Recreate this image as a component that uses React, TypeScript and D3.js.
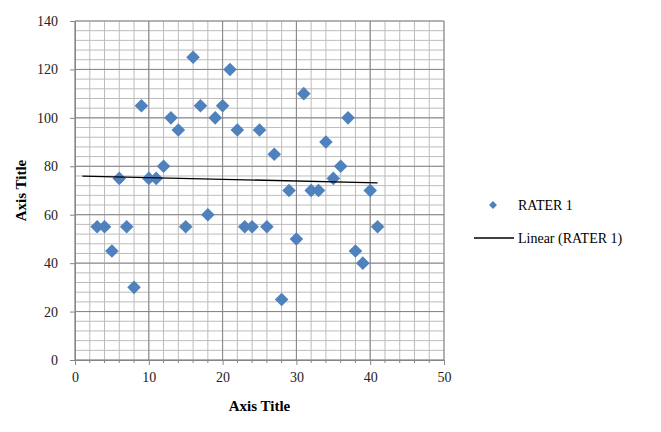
import React, { useEffect, useRef } from 'react';
import * as d3 from 'd3';

const xValues = [3, 4, 5, 6, 7, 8, 9, 10, 11, 12, 13, 14, 15, 16, 17, 18, 19, 20, 21, 22, 23, 24, 25, 26, 27, 28, 29, 30, 31, 32, 33, 34, 35, 36, 37, 38, 39, 40, 41];
const rater1 = [55, 55, 45, 75, 55, 30, 105, 75, 75, 80, 100, 95, 55, 125, 105, 60, 100, 105, 120, 95, 55, 55, 95, 55, 85, 25, 70, 50, 110, 70, 70, 90, 75, 80, 100, 45, 40, 70, 55];
const xTicks = [0, 10, 20, 30, 40, 50];
const yTicks = [0, 20, 40, 60, 80, 100, 120, 140];
const trendRange = [1, 41];
const seriesName = 'RATER 1';

function App() {
  const ref = useRef<SVGSVGElement | null>(null);

  useEffect(() => {
    if (!ref.current) return;
    const width = 661;
    const height = 432;
    const margin = { top: 21, right: 217, bottom: 72, left: 75 };
    const font = '"Liberation Serif", "Times New Roman", serif';
    const blue = '#4f81bd';

    const svg = d3.select(ref.current)
      .attr('width', width)
      .attr('height', height);
    svg.selectAll('*').remove();

    const x = d3.scaleLinear().domain([0, 50]).range([margin.left, width - margin.right]);
    const y = d3.scaleLinear().domain([0, 140]).range([height - margin.bottom, margin.top]);

    const grid = svg.append('g');
    // minor grid
    grid.selectAll('line.mx')
      .data(d3.range(0, 51, 2))
      .join('line')
      .attr('x1', d => x(d)).attr('x2', d => x(d))
      .attr('y1', y(0)).attr('y2', y(140))
      .attr('stroke', '#bcbcbc').attr('stroke-width', 1);
    grid.selectAll('line.my')
      .data(d3.range(0, 141, 4))
      .join('line')
      .attr('x1', x(0)).attr('x2', x(50))
      .attr('y1', d => y(d)).attr('y2', d => y(d))
      .attr('stroke', '#bcbcbc').attr('stroke-width', 1);
    // major grid
    grid.selectAll('line.Mx')
      .data(xTicks)
      .join('line')
      .attr('x1', d => x(d)).attr('x2', d => x(d))
      .attr('y1', y(0)).attr('y2', y(140))
      .attr('stroke', '#868686').attr('stroke-width', 1);
    grid.selectAll('line.My')
      .data(yTicks)
      .join('line')
      .attr('x1', x(0)).attr('x2', x(50))
      .attr('y1', d => y(d)).attr('y2', d => y(d))
      .attr('stroke', '#868686').attr('stroke-width', 1);

    // axes
    const xAxis = svg.append('g')
      .attr('transform', `translate(0,${y(0)})`)
      .call(d3.axisBottom(x).tickValues(xTicks).tickSize(5).tickSizeOuter(0));
    xAxis.select('.domain').attr('stroke', '#868686');
    xAxis.selectAll('line').attr('stroke', '#868686');
    xAxis.selectAll('text')
      .attr('font-family', font).attr('font-size', 14).attr('fill', '#222').attr('y', 12);
    svg.append('g')
      .selectAll('line')
      .data(d3.range(0, 51, 2).filter(d => d % 10 !== 0))
      .join('line')
      .attr('x1', d => x(d)).attr('x2', d => x(d))
      .attr('y1', y(0)).attr('y2', y(0) + 3)
      .attr('stroke', '#868686');

    const yAxis = svg.append('g')
      .attr('transform', `translate(${x(0)},0)`)
      .call(d3.axisLeft(y).tickValues(yTicks).tickSize(5).tickSizeOuter(0));
    yAxis.select('.domain').attr('stroke', '#868686');
    yAxis.selectAll('line').attr('stroke', '#868686');
    yAxis.selectAll('text')
      .attr('font-family', font).attr('font-size', 14).attr('fill', '#222').attr('x', -17);

    // points
    const diamond = d3.symbol().type(d3.symbolDiamond2).size(118);
    svg.append('g')
      .selectAll('path')
      .data(xValues.map((v, i) => ({ x: v, y: rater1[i] })))
      .join('path')
      .attr('d', diamond)
      .attr('transform', d => `translate(${x(d.x)},${y(d.y)})`)
      .attr('fill', blue);

    // linear trendline
    const mx = d3.mean(xValues) as number;
    const my = d3.mean(rater1) as number;
    const sxy = d3.sum(xValues, (v, i) => (v - mx) * (rater1[i] - my));
    const sxx = d3.sum(xValues, v => (v - mx) * (v - mx));
    const slope = sxy / sxx;
    const intercept = my - slope * mx;
    svg.append('path')
      .datum(trendRange)
      .attr('d', d3.line<number>().x(d => x(d)).y(d => y(intercept + slope * d)))
      .attr('stroke', '#000').attr('stroke-width', 1.3).attr('fill', 'none');

    // axis titles
    svg.append('text')
      .attr('x', (x(0) + x(50)) / 2).attr('y', 411)
      .attr('text-anchor', 'middle')
      .attr('font-family', font).attr('font-size', 15).attr('font-weight', 'bold')
      .text('Axis Title');
    svg.append('text')
      .attr('transform', `translate(26,${(y(0) + y(140)) / 2}) rotate(-90)`)
      .attr('text-anchor', 'middle')
      .attr('font-family', font).attr('font-size', 15).attr('font-weight', 'bold')
      .text('Axis Title');

    // legend
    const lg = svg.append('g');
    lg.append('path')
      .attr('d', d3.symbol().type(d3.symbolDiamond2).size(40))
      .attr('transform', 'translate(493,205)')
      .attr('fill', blue);
    lg.append('text')
      .attr('x', 518).attr('y', 210)
      .attr('font-family', font).attr('font-size', 14)
      .text(seriesName);
    lg.append('line')
      .attr('x1', 474).attr('x2', 514).attr('y1', 238).attr('y2', 238)
      .attr('stroke', '#000').attr('stroke-width', 1.3);
    lg.append('text')
      .attr('x', 518).attr('y', 243)
      .attr('font-family', font).attr('font-size', 14)
      .text(`Linear (${seriesName})`);
  }, []);

  return (
    <svg ref={ref} style={{ position: 'absolute', left: 0, top: 0, background: '#fff' }}></svg>
  );
}

export default App;
